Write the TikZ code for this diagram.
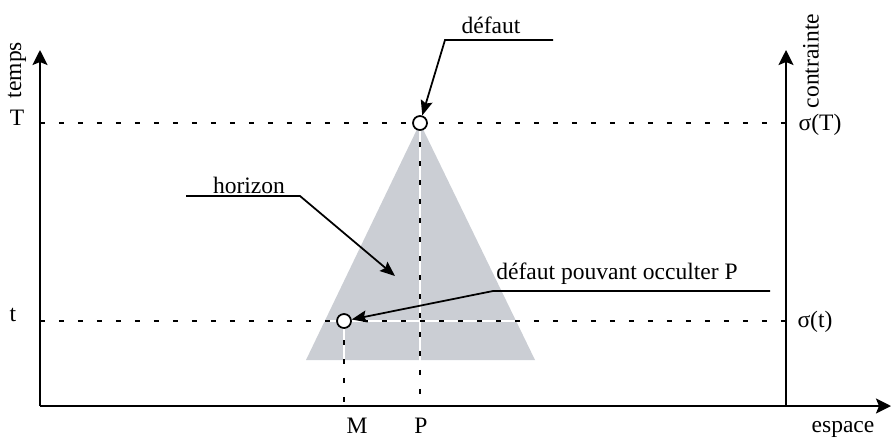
\documentclass[tikz,border=0pt]{standalone}
\usepackage{fontspec}
\setmainfont{Liberation Serif}
\usetikzlibrary{arrows.meta}
\definecolor{horizongray}{RGB}{203,206,212}

\begin{document}
\begin{tikzpicture}[x=0.02cm, y=0.02cm,
  every node/.style={font=\fontsize{13.4}{16}\selectfont, inner sep=0pt},
  axe/.style={line width=1.3pt, -{Stealth[length=0.3cm,width=0.3cm,inset=0.06cm]}},
  pointille/.style={line width=0.75pt, dash pattern=on 0.1cm off 0.28cm},
  fleche/.style={line width=1pt, -{Stealth[length=0.3cm,width=0.24cm,inset=0.05cm]}},
  point/.style={circle, draw, fill=white, line width=1pt, minimum size=0.28cm}]
 \useasboundingbox (0,0) rectangle (892,441);
 % reperes
 \coordinate (O) at (40,35);
 \coordinate (Ttop) at (40,391);
 \coordinate (Xend) at (891,35);
 \coordinate (C0) at (786,35);
 \coordinate (Ctop) at (786,391);
 \coordinate (TL) at (40,318);
 \coordinate (TR) at (786,318);
 \coordinate (tL) at (40,120);
 \coordinate (tR) at (786,120);
 \coordinate (Paxe) at (420,35);
 \coordinate (Maxe) at (344,35);
 % horizon
 \fill[horizongray] (420,318) -- (306,81) -- (535,81) -- cycle;
 % lignes de rappel
 \draw[white, line width=0.75pt] (TL) -- (TR) (tL) -- (tR) (420,318) -- (Paxe) (344,120) -- (Maxe);
 \draw[pointille] (TL) -- (TR);
 \draw[pointille] (tL) -- (tR);
 \draw[pointille] (420,318) -- (Paxe);
 \draw[pointille] (344,120) -- (Maxe);
 % axes
 \draw[axe] (O) -- (Ttop);
 \draw[axe] (O) -- (Xend);
 \draw[axe] (C0) -- (Ctop);
 % defauts
 \node[point] (defaut) at (420,318) {};
 \node[point] (defM) at (344,120) {};
 % textes
 \node[rotate=90] (temps) at (17,371) {temps};
 \node[rotate=90] (contrainte) at (811,380) {contrainte};
 \node (labT) at (17,323) {T};
 \node (labt) at (13,126) {t};
 \node (sigT) at (820,316) {σ(T)};
 \node (sigt) at (815,119) {σ(t)};
 \node (labM) at (357,15) {M};
 \node (labP) at (421,15) {P};
 \node (espace) at (843,12) {espace};
 \node (txtdefaut) at (491,416) {défaut};
 \node (txthorizon) at (249,256) {horizon};
 \node (txtocculter) at (617,167) {défaut pouvant occulter P};
 % renvois
 \coordinate (r1a) at (553,401);
 \coordinate (r1b) at (445,401);
 \coordinate (r2a) at (186,245);
 \coordinate (r2b) at (300,245);
 \coordinate (r2c) at (395,165);
 \coordinate (r3a) at (770,150);
 \coordinate (r3b) at (493,150);
 \draw[fleche] (r1a) -- (r1b) -- (defaut);
 \draw[fleche] (r2a) -- (r2b) -- (r2c);
 \draw[fleche] (r3a) -- (r3b) -- (defM);
\end{tikzpicture}
\end{document}
